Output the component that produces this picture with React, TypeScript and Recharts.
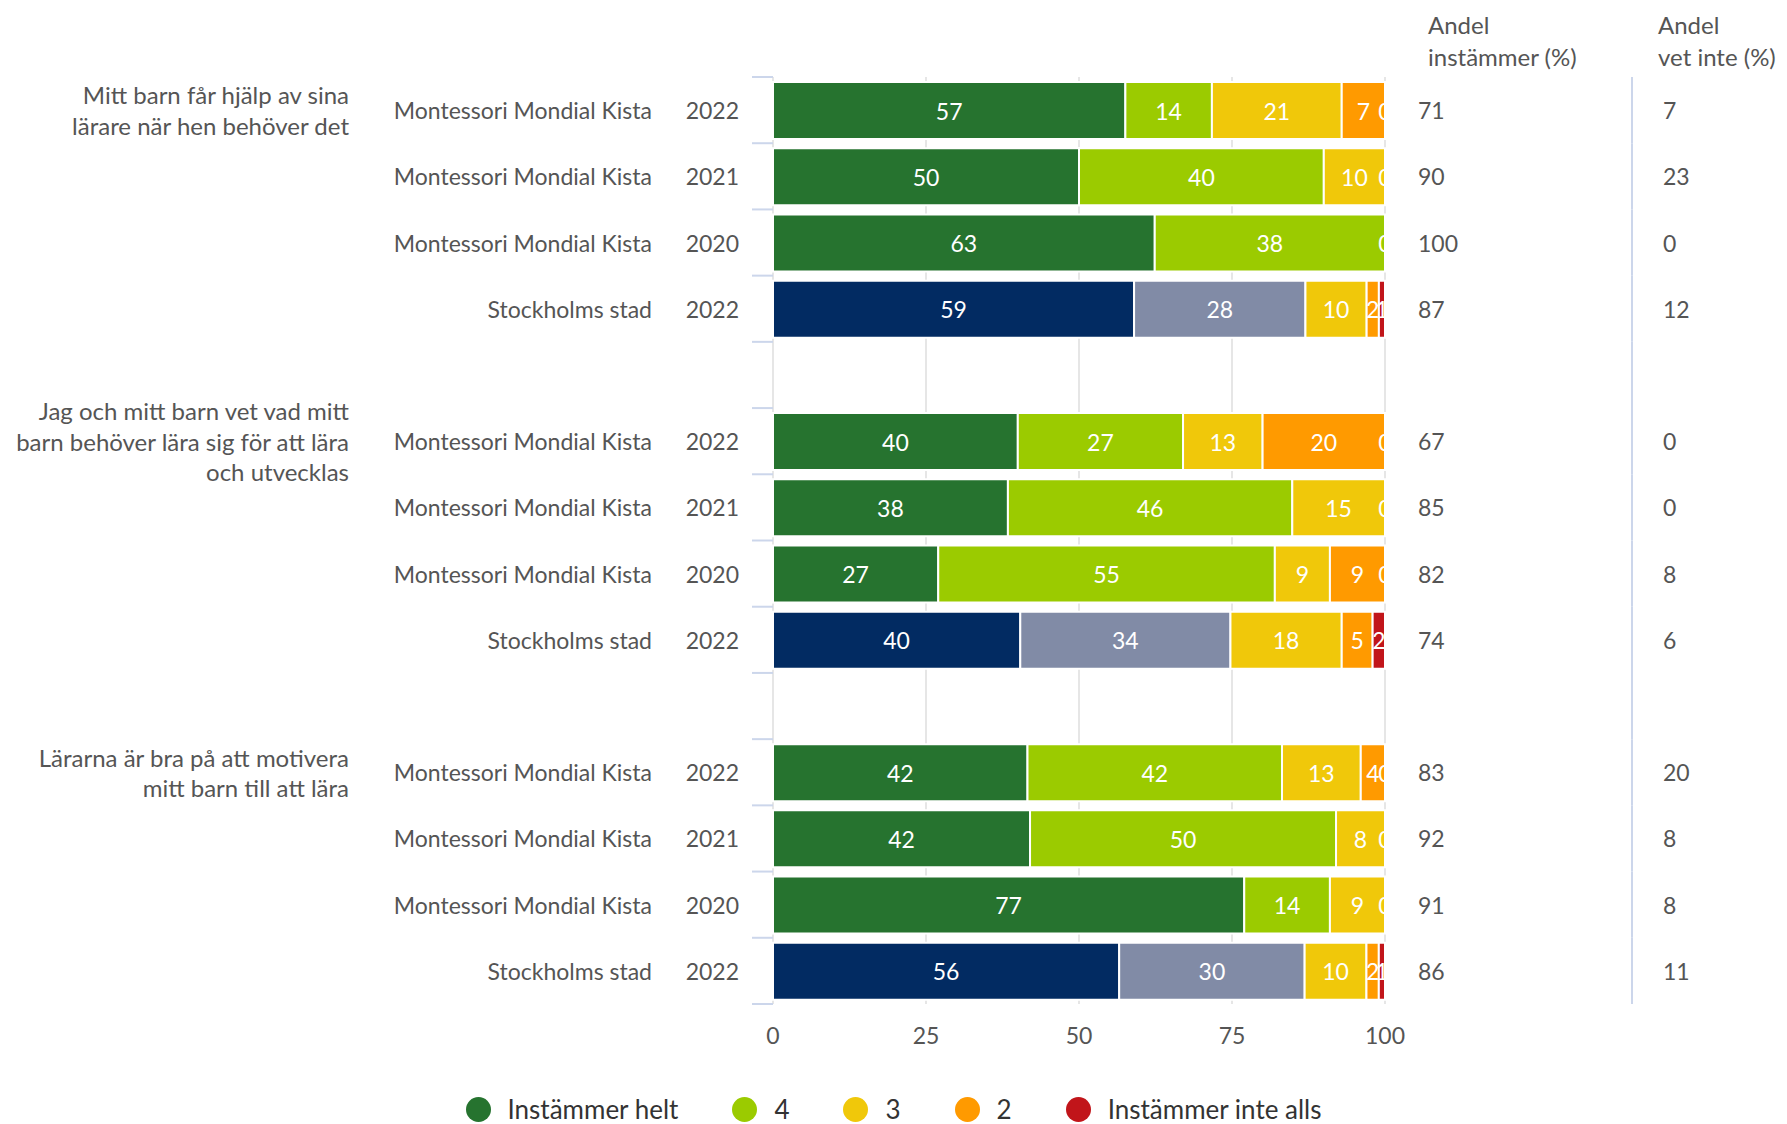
import { BarChart, Bar, XAxis, YAxis, CartesianGrid, Legend, LabelList, Cell } from "recharts";

// rows, top to bottom (empty rows are the gaps between questions)
const rowNames = [
  "Montessori Mondial Kista", "Montessori Mondial Kista", "Montessori Mondial Kista", "Stockholms stad", "",
  "Montessori Mondial Kista", "Montessori Mondial Kista", "Montessori Mondial Kista", "Stockholms stad", "",
  "Montessori Mondial Kista", "Montessori Mondial Kista", "Montessori Mondial Kista", "Stockholms stad",
];
const years = ["2022", "2021", "2020", "2022", "", "2022", "2021", "2020", "2022", "", "2022", "2021", "2020", "2022"];

const helt = [57, 50, 63, 59, null, 40, 38, 27, 40, null, 42, 42, 77, 56];
const fyra = [14, 40, 38, 28, null, 27, 46, 55, 34, null, 42, 50, 14, 30];
const tre = [21, 10, 0, 10, null, 13, 15, 9, 18, null, 13, 8, 9, 10];
const tva = [7, 0, 0, 2, null, 20, 0, 9, 5, null, 4, 0, 0, 2];
const inteAlls = [0, 0, 0, 1, null, 0, 0, 0, 2, null, 0, 0, 0, 1];

const andelInstammer = [71, 90, 100, 87, null, 67, 85, 82, 74, null, 83, 92, 91, 86];
const andelVetInte = [7, 23, 0, 12, null, 0, 0, 8, 6, null, 20, 8, 8, 11];

const questions = [
  ["Mitt barn får hjälp av sina", "lärare när hen behöver det"],
  ["Jag och mitt barn vet vad mitt", "barn behöver lära sig för att lära", "och utvecklas"],
  ["Lärarna är bra på att motivera", "mitt barn till att lära"],
];
const questionRows = [0, 5, 10];
const cityRows = [3, 8, 13];

const seriesKeys = ["helt", "fyra", "tre", "tva", "inteAlls"];
const seriesNames = ["Instämmer helt", "4", "3", "2", "Instämmer inte alls"];
const seriesColors = ["#26732f", "#9bcb00", "#f0c80a", "#ff9a00", "#c1151a"];
const cityColors = ["#022b62", "#818ba6"];

const xTicks = [0, 0.25, 0.5, 0.75, 1];

const data = rowNames.map((name, i) => ({
  id: `r${i}`,
  name,
  year: years[i],
  helt: helt[i],
  fyra: fyra[i],
  tre: tre[i],
  tva: tva[i],
  inteAlls: inteAlls[i],
  andel: andelInstammer[i],
  vetInte: andelVetInte[i],
}));

const W = 1787;
const H = 1124;
const MARGIN = { top: 77, right: 402, bottom: 70, left: 0 };
const X_AXIS_H = 50;
const Y_AXIS_W = 773;
const PLOT_H = H - MARGIN.top - MARGIN.bottom - X_AXIS_H;
const BAND = PLOT_H / data.length;
const TEXT = "#555555";
const LINE = "#ccd6eb";

function RowTick(props: any) {
  const { y, payload } = props;
  const i = data.findIndex((d) => d.id === payload.value);
  const row = data[i];
  const q = questionRows.indexOf(i);
  const top = y - BAND / 2;
  return (
    <g>
      <line x1={752} x2={Y_AXIS_W} y1={top} y2={top} stroke={LINE} strokeWidth={2} />
      {i === data.length - 1 && (
        <line x1={752} x2={Y_AXIS_W} y1={top + BAND} y2={top + BAND} stroke={LINE} strokeWidth={2} />
      )}
      <line x1={1632} x2={1632} y1={top} y2={top + BAND} stroke={LINE} strokeWidth={2} />
      <text x={652} y={y} textAnchor="end" dominantBaseline="central" fontSize={23} fill={TEXT}>
        {row.name}
      </text>
      <text x={739} y={y} textAnchor="end" dominantBaseline="central" fontSize={23} fill={TEXT}>
        {row.year}
      </text>
      {q >= 0 &&
        questions[q].map((line, k) => (
          <text
            key={k}
            x={349}
            y={y + (k - (questions[q].length - 1) / 2) * 30.5}
            textAnchor="end"
            dominantBaseline="central"
            fontSize={24}
            fill={TEXT}
          >
            {line}
          </text>
        ))}
      <text x={1418} y={y} dominantBaseline="central" fontSize={23} fill={TEXT}>
        {row.andel ?? ""}
      </text>
      <text x={1663} y={y} dominantBaseline="central" fontSize={23} fill={TEXT}>
        {row.vetInte ?? ""}
      </text>
      {i === 0 && (
        <g fontSize={24} fill={TEXT}>
          <text x={1428} y={y - 86} dominantBaseline="central">Andel</text>
          <text x={1428} y={y - 54} dominantBaseline="central">instämmer (%)</text>
          <text x={1658} y={y - 86} dominantBaseline="central">Andel</text>
          <text x={1658} y={y - 54} dominantBaseline="central">vet inte (%)</text>
        </g>
      )}
    </g>
  );
}

// label for one series; the last non-zero segment also prints the "0" of trailing empty segments at the stack end
const makeLabel = (s: number) => (props: any) => {
  const { x, y, width, height, value } = props;
  if (value === null || value === undefined || value === 0) return null;
  const cy = Number(y) + Number(height) / 2;
  // which row this bar belongs to, from its position on the category band
  const rowIdx = Math.floor((cy - MARGIN.top) / BAND);
  const row: any = data[rowIdx];
  const rest = row ? seriesKeys.slice(s + 1).map((k) => row[k]) : [];
  const trailingZero = rest.length > 0 && rest.every((v) => v === 0);
  return (
    <g>
      <text
        x={Number(x) + Number(width) / 2}
        y={cy}
        fill="#ffffff"
        fontSize={23}
        textAnchor="middle"
        dominantBaseline="central"
      >
        {value}
      </text>
      {trailingZero && (
        <text
          x={Number(x) + Number(width)}
          y={cy}
          fill="#ffffff"
          fontSize={23}
          textAnchor="middle"
          dominantBaseline="central"
        >
          0
        </text>
      )}
    </g>
  );
};

const renderLegend = () => (
  <div style={{ display: "flex", justifyContent: "center", alignItems: "center" }}>
    {seriesNames.map((n, i) => (
      <div
        key={n}
        style={{ display: "flex", alignItems: "center", marginRight: i < seriesNames.length - 1 ? 54 : 0 }}
      >
        <span
          style={{
            display: "inline-block",
            width: 25,
            height: 25,
            borderRadius: "50%",
            background: seriesColors[i],
            marginRight: 17,
          }}
        />
        <span style={{ fontSize: 26, color: "#333333" }}>{n}</span>
      </div>
    ))}
  </div>
);

export default function App() {
  return (
    <div style={{ position: "absolute", left: 0, top: 0, width: W, height: H, background: "#fff", fontFamily: "Lato, sans-serif" }}>
      <BarChart
        width={W}
        height={H}
        data={data}
        layout="vertical"
        stackOffset="expand"
        margin={MARGIN}
        barSize={57}
      >
        <CartesianGrid horizontal={false} stroke="#e6e6e6" strokeWidth={2} />
        <XAxis
          type="number"
          domain={[0, 1]}
          ticks={xTicks}
          tickFormatter={(v: number) => String(Math.round(v * 100))}
          axisLine={false}
          tickLine={false}
          height={X_AXIS_H}
          tickMargin={18}
          tick={{ fill: TEXT, fontSize: 23 }}
        />
        <YAxis
          type="category"
          dataKey="id"
          width={Y_AXIS_W}
          axisLine={false}
          tickLine={false}
          interval={0}
          tick={(p: any) => <RowTick {...p} />}
        />
        {seriesKeys.map((key, s) => (
          <Bar
            key={key}
            dataKey={key}
            name={seriesNames[s]}
            stackId="a"
            fill={seriesColors[s]}
            stroke="#ffffff"
            strokeWidth={2}
            isAnimationActive={false}
          >
            {data.map((d, i) => (
              <Cell
                key={d.id}
                fill={s < 2 && cityRows.includes(i) ? cityColors[s] : seriesColors[s]}
              />
            ))}
            <LabelList dataKey={key} content={makeLabel(s)} />
          </Bar>
        ))}
        <Legend
          layout="horizontal"
          verticalAlign="middle"
          align="center"
          content={renderLegend}
          wrapperStyle={{ top: 1093, left: 0, width: W }}
        />
      </BarChart>
    </div>
  );
}
